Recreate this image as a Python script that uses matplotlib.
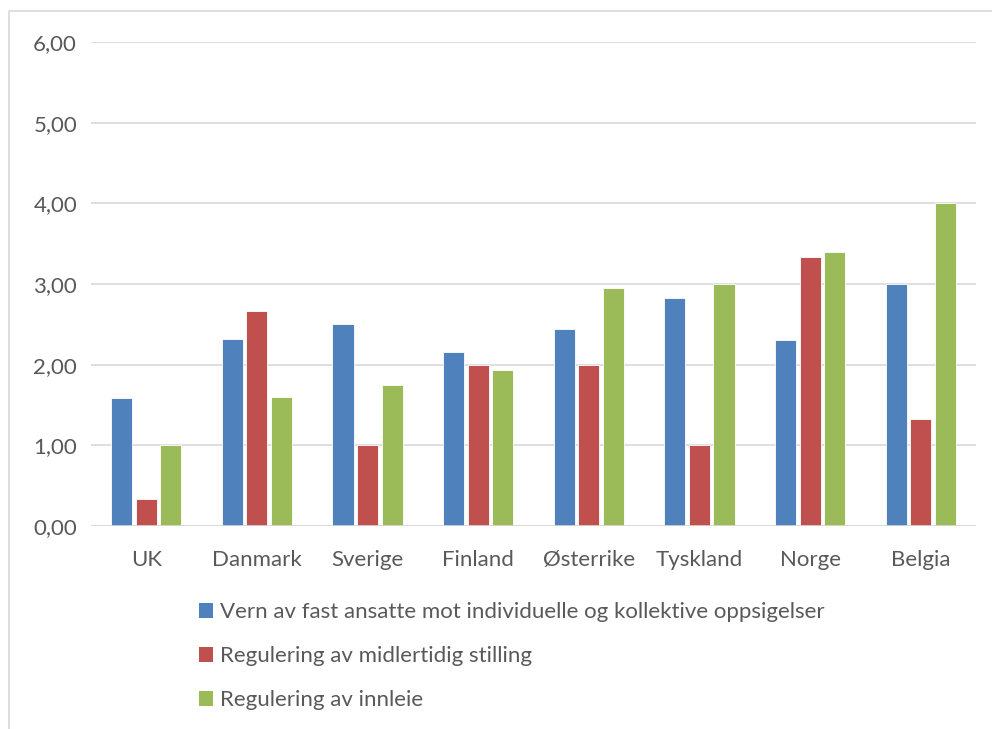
import matplotlib
matplotlib.use("Agg")
import matplotlib.pyplot as plt
import numpy as np
from matplotlib.lines import Line2D
from matplotlib.patches import Patch

plt.rcParams['font.family'] = ['Lato', 'DejaVu Sans']

countries = ["UK", "Danmark", "Sverige", "Finland", "Østerrike", "Tyskland", "Norge", "Belgia"]
series_names = [
    "Vern av fast ansatte mot individuelle og kollektive oppsigelser",
    "Regulering av midlertidig stilling",
    "Regulering av innleie",
]
vern_fast = [1.59, 2.32, 2.51, 2.16, 2.44, 2.83, 2.31, 3.00]
midlertidig = [0.33, 2.67, 1.00, 2.00, 2.00, 1.00, 3.33, 1.33]
innleie = [1.00, 1.60, 1.75, 1.94, 2.95, 3.00, 3.40, 4.00]
y_ticks = [0, 1, 2, 3, 4, 5, 6]

colors = ["#4F81BD", "#C0504D", "#9BBB59"]
text_color = "#595959"
grid_color = "#D9D9D9"

fig = plt.figure(figsize=(9.92, 7.29), dpi=100)
W, H = 992, 729
ax = fig.add_axes([91 / W, 1 - 526 / H, 885 / W, 484 / H])

x = np.arange(len(countries))
step = 0.222
width = 0.19
for i, vals in enumerate([vern_fast, midlertidig, innleie]):
    ax.bar(x + (i - 1) * step, vals, width=width, color=colors[i],
           edgecolor="white", linewidth=0.6, zorder=3, label=series_names[i])

ax.set_xlim(-0.5, len(countries) - 0.5)
ax.set_ylim(0, 6)
ax.set_yticks(y_ticks)
ax.set_yticklabels([f"{v:.2f}".replace(".", ",") for v in y_ticks])
ax.set_xticks(x)
ax.set_xticklabels(countries)
ax.tick_params(axis="both", length=0, colors=text_color, labelsize=16)
ax.tick_params(axis="y", pad=10)
ax.tick_params(axis="x", pad=17)
ax.yaxis.grid(True, color=grid_color, linewidth=1.2, zorder=0)
for s in ax.spines.values():
    s.set_visible(False)
ax.axhline(0, color=grid_color, linewidth=1.2, zorder=4)

# Chart area frame (open at right and bottom)
fig.add_artist(Line2D([9 / W, 9 / W, 1.0], [0.0, 1 - 11 / H, 1 - 11 / H],
                      transform=fig.transFigure, color=grid_color, linewidth=1.2))

handles = [Patch(facecolor=c, edgecolor="none") for c in colors]
leg = fig.legend(handles, series_names, loc="upper left",
                 bbox_to_anchor=(199 / W, 1 - 602 / H), frameon=False,
                 handlelength=0.65, handleheight=0.65, handletextpad=0.3,
                 labelspacing=1.09, fontsize=16, labelcolor=text_color,
                 borderaxespad=0, borderpad=0)

fig.savefig("out.png", dpi=100)
